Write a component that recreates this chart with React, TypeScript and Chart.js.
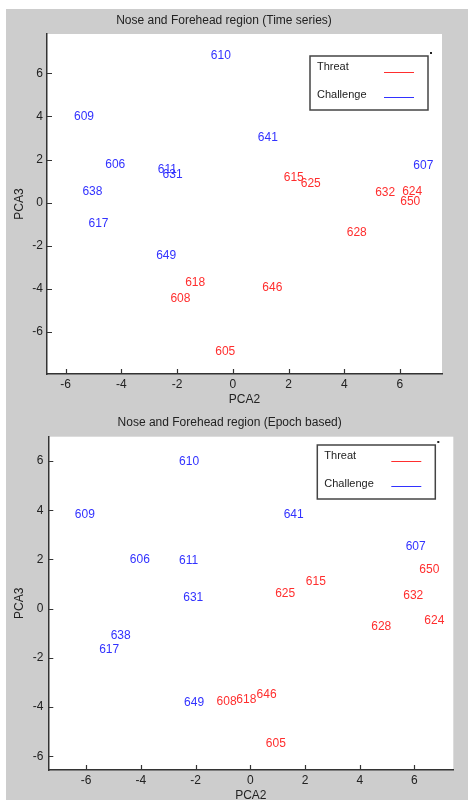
import React, { useEffect, useRef } from 'react';
import { Chart, registerables } from 'chart.js';

Chart.register(...registerables);

// Subject IDs (point labels)
const threatIds = ['605', '608', '615', '618', '624', '625', '628', '632', '646', '650'];
const challengeIds = ['606', '607', '609', '610', '611', '617', '631', '638', '641', '649'];

// Time series chart values (PCA2, PCA3)
const tsThreatX = [-0.63, -2.24, 1.83, -1.71, 6.08, 2.44, 4.09, 5.11, 1.06, 6.01];
const tsThreatY = [-6.9, -4.43, 1.16, -3.71, 0.53, 0.9, -1.41, 0.48, -3.92, 0.06];
const tsChallengeX = [-4.58, 6.48, -5.7, -0.79, -2.69, -5.18, -2.52, -5.4, 0.9, -2.75];
const tsChallengeY = [1.76, 1.73, 4.0, 6.81, 1.54, -0.99, 1.3, 0.51, 3.01, -2.46];

// Epoch based chart values (PCA2, PCA3)
const epThreatX = [0.57, -1.23, 2.03, -0.51, 6.36, 0.91, 4.42, 5.59, 0.23, 6.18];
const epThreatY = [-5.51, -3.78, 1.11, -3.7, -0.5, 0.61, -0.74, 0.53, -3.51, 1.6];
const epChallengeX = [-4.4, 5.68, -6.41, -2.6, -2.6, -5.52, -2.45, -5.1, 1.22, -2.42];
const epChallengeY = [1.98, 2.52, 3.81, 5.99, 1.95, -1.68, 0.45, -1.1, 3.81, -3.82];

const seriesNames = ['Threat', 'Challenge'];
const titles = ['Nose and Forehead region (Time series)', 'Nose and Forehead region (Epoch based)'];

const RED = '#ff2e2e';
const BLUE = '#3232ff';
const FONT = '"Liberation Sans", Arial, Helvetica, sans-serif';
const TEXT = '#222222';

const matlabPlugin = {
  id: 'matlab',
  beforeDraw(chart: any) {
    const { ctx, chartArea: a } = chart;
    ctx.save();
    ctx.fillStyle = '#ffffff';
    ctx.fillRect(a.left, a.top, a.right - a.left, a.bottom - a.top);
    ctx.restore();
  },
  afterDatasetsDraw(chart: any) {
    const { ctx } = chart;
    ctx.save();
    ctx.font = `12px ${FONT}`;
    ctx.textAlign = 'left';
    ctx.textBaseline = 'middle';
    chart.data.datasets.forEach((ds: any, i: number) => {
      const meta = chart.getDatasetMeta(i);
      ctx.fillStyle = ds.borderColor;
      meta.data.forEach((el: any, j: number) => {
        ctx.fillText(ds.ids[j], el.x, el.y);
      });
    });
    ctx.restore();
  },
  afterDraw(chart: any, _args: any, opts: any) {
    const { ctx, chartArea: a } = chart;
    const xs = chart.scales.x;
    const ys = chart.scales.y;
    ctx.save();
    ctx.strokeStyle = '#333333';
    ctx.lineWidth = 1.2;
    ctx.beginPath();
    xs.ticks.forEach((t: any) => {
      const px = Math.round(xs.getPixelForValue(t.value)) + 0.5;
      ctx.moveTo(px, a.bottom);
      ctx.lineTo(px, a.bottom - 5);
    });
    ys.ticks.forEach((t: any) => {
      const py = Math.round(ys.getPixelForValue(t.value)) + 0.5;
      ctx.moveTo(a.left, py);
      ctx.lineTo(a.left + 5, py);
    });
    ctx.stroke();

    // MATLAB-style legend
    const w = 118;
    const h = 54;
    const bx = a.right - opts.rightInset - w;
    const by = a.top + opts.topInset;
    ctx.fillStyle = '#ffffff';
    ctx.fillRect(bx, by, w, h);
    ctx.strokeStyle = '#444444';
    ctx.lineWidth = 1.5;
    ctx.strokeRect(bx, by, w, h);
    ctx.fillStyle = '#222222';
    ctx.fillRect(bx + w + 2, by - 4, 2, 2);
    ctx.font = `11px ${FONT}`;
    ctx.textAlign = 'left';
    ctx.textBaseline = 'middle';
    const rows = [
      { label: chart.data.datasets[0].label, color: chart.data.datasets[0].borderColor, ty: 10.5, ly: 15.5 },
      { label: chart.data.datasets[1].label, color: chart.data.datasets[1].borderColor, ty: 39, ly: 41 },
    ];
    rows.forEach((r) => {
      ctx.fillStyle = '#222222';
      ctx.fillText(r.label, bx + 7, by + r.ty);
      ctx.strokeStyle = r.color;
      ctx.lineWidth = 1;
      ctx.beginPath();
      ctx.moveTo(bx + 74, Math.round(by + r.ly) + 0.5);
      ctx.lineTo(bx + 104, Math.round(by + r.ly) + 0.5);
      ctx.stroke();
    });
    ctx.restore();
  },
};

type Cfg = {
  title: string;
  threatX: number[];
  threatY: number[];
  challengeX: number[];
  challengeY: number[];
  xMin: number;
  xMax: number;
  yMin: number;
  yMax: number;
  yAxisWidth: number;
  xAxisHeight: number;
  rightPad: number;
  titlePadTop: number;
  titlePadBottom: number;
  yTickPad: number;
  xTickPad: number;
  xTitlePadBottom: number;
  legendRight: number;
  legendTop: number;
};

function Plot({ cfg, width, height }: { cfg: Cfg; width: number; height: number }) {
  const ref = useRef<HTMLCanvasElement | null>(null);
  useEffect(() => {
    if (!ref.current) return;
    const chart = new Chart(ref.current, {
      type: 'scatter',
      data: {
        datasets: [
          {
            label: seriesNames[0],
            ids: threatIds,
            data: cfg.threatX.map((x, i) => ({ x, y: cfg.threatY[i] })),
            borderColor: RED,
            backgroundColor: RED,
            pointRadius: 0,
            showLine: false,
          } as any,
          {
            label: seriesNames[1],
            ids: challengeIds,
            data: cfg.challengeX.map((x, i) => ({ x, y: cfg.challengeY[i] })),
            borderColor: BLUE,
            backgroundColor: BLUE,
            pointRadius: 0,
            showLine: false,
          } as any,
        ],
      },
      options: {
        responsive: true,
        maintainAspectRatio: false,
        animation: false,
        events: [],
        layout: { padding: { left: 0, right: cfg.rightPad, top: 0, bottom: 0 } },
        plugins: {
          legend: { display: false },
          tooltip: { enabled: false },
          title: {
            display: true,
            text: cfg.title,
            color: TEXT,
            font: { family: FONT, size: 12, weight: 'normal' },
            padding: { top: cfg.titlePadTop, bottom: cfg.titlePadBottom },
          },
          matlab: { rightInset: cfg.legendRight, topInset: cfg.legendTop },
        } as any,
        scales: {
          x: {
            type: 'linear',
            min: cfg.xMin,
            max: cfg.xMax,
            grid: { display: false, drawTicks: false },
            border: { display: true, color: '#333333', width: 1.5 },
            ticks: {
              stepSize: 2,
              includeBounds: false,
              autoSkip: false,
              maxRotation: 0,
              padding: cfg.xTickPad,
              color: TEXT,
              font: { family: FONT, size: 12 },
            },
            title: {
              display: true,
              text: 'PCA2',
              color: TEXT,
              font: { family: FONT, size: 12 },
              padding: { top: 0, bottom: cfg.xTitlePadBottom },
            },
            afterFit: (s: any) => {
              s.height = cfg.xAxisHeight;
            },
          },
          y: {
            type: 'linear',
            min: cfg.yMin,
            max: cfg.yMax,
            grid: { display: false, drawTicks: false },
            border: { display: true, color: '#333333', width: 1.5 },
            ticks: {
              stepSize: 2,
              includeBounds: false,
              autoSkip: false,
              padding: cfg.yTickPad,
              color: TEXT,
              font: { family: FONT, size: 12 },
            },
            title: {
              display: true,
              text: 'PCA3',
              color: TEXT,
              font: { family: FONT, size: 12 },
              padding: { top: 6.8, bottom: 0 },
            },
            afterFit: (s: any) => {
              s.width = cfg.yAxisWidth;
            },
          },
        },
      },
      plugins: [matlabPlugin as any],
    });
    return () => chart.destroy();
  }, [cfg]);
  return (
    <div style={{ position: 'relative', width, height }}>
      <canvas ref={ref} />
    </div>
  );
}

const topCfg: Cfg = {
  title: titles[0],
  threatX: tsThreatX,
  threatY: tsThreatY,
  challengeX: tsChallengeX,
  challengeY: tsChallengeY,
  xMin: -6.67,
  xMax: 7.51,
  yMin: -7.94,
  yMax: 7.82,
  yAxisWidth: 41,
  xAxisHeight: 34,
  rightPad: 26,
  titlePadTop: 4.8,
  titlePadBottom: 5.8,
  yTickPad: 4,
  xTickPad: 3.8,
  xTitlePadBottom: 0.8,
  legendRight: 14,
  legendTop: 22,
};

const bottomCfg: Cfg = {
  title: titles[1],
  threatX: epThreatX,
  threatY: epThreatY,
  challengeX: epChallengeX,
  challengeY: epChallengeY,
  xMin: -7.38,
  xMax: 7.42,
  yMin: -6.56,
  yMax: 6.99,
  yAxisWidth: 42.3,
  xAxisHeight: 38,
  rightPad: 14.7,
  titlePadTop: 7.5,
  titlePadBottom: 6.8,
  yTickPad: 5,
  xTickPad: 3.5,
  xTitlePadBottom: 4.8,
  legendRight: 18,
  legendTop: 8.3,
};

export default function App() {
  return (
    <div
      style={{
        position: 'absolute',
        left: 0,
        top: 0,
        width: 468,
        height: 800,
        background: '#ffffff',
        overflow: 'hidden',
      }}
    >
      <div style={{ position: 'absolute', left: 6, top: 9, width: 462, height: 791, background: '#cdcdcd' }} />
      <div style={{ position: 'absolute', left: 6, top: 9 }}>
        <Plot cfg={topCfg} width={462} height={399} />
      </div>
      <div style={{ position: 'absolute', left: 6, top: 408 }}>
        <Plot cfg={bottomCfg} width={462} height={400} />
      </div>
    </div>
  );
}
